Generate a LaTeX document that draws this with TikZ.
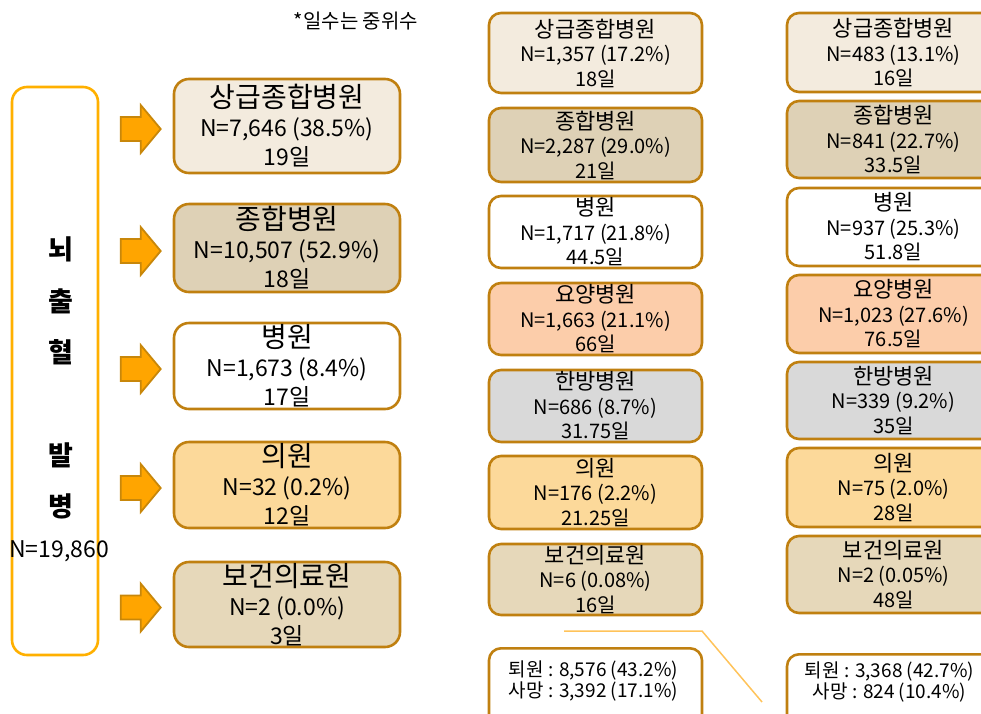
\documentclass[tikz,border=0pt]{standalone}
\usepackage{fontspec}
\setmainfont{Noto Sans CJK KR}
\usetikzlibrary{calc}
\definecolor{bordc}{RGB}{192,128,16}
\definecolor{srcc}{RGB}{255,176,0}
\definecolor{arrf}{RGB}{255,165,0}
\definecolor{arrd}{RGB}{200,135,10}
\definecolor{fsang}{RGB}{243,235,222}
\definecolor{fjong}{RGB}{222,209,182}
\definecolor{fyoyang}{RGB}{252,205,170}
\definecolor{fhan}{RGB}{217,217,217}
\definecolor{fui}{RGB}{252,217,154}
\definecolor{fbo}{RGB}{230,216,186}
\definecolor{linec}{RGB}{255,195,90}
\newcommand{\lt}[1]{{\fontsize{28}{29}\selectfont #1}}
\newcommand{\mt}[1]{{\fontsize{22}{24.5}\selectfont #1}}
\begin{document}
\begin{tikzpicture}[x=1pt,y=-1pt,
  hb/.style={draw=bordc, line width=2.6pt, rounded corners=12pt, align=center, inner sep=0pt, text=black},
  lbox/.style={hb, rounded corners=15pt, minimum width=226pt, font=\fontsize{23}{29}\selectfont},
  mbox/.style={hb, minimum width=213pt, font=\fontsize{20}{24.5}\selectfont},
  barrow/.style={fill=arrf, draw=arrd, line width=1.8pt, line join=miter}
]
\useasboundingbox (0,0) rectangle (981,713);
\clip (0,0) rectangle (981,713);

% note
\node[font=\fontsize{20}{22}\selectfont] (note) at (356,21) {*일수는 중위수};

% source box
\node[draw=srcc, line width=2.6pt, rounded corners=15pt, minimum width=86pt, minimum height=568pt] (src) at (55,371) {};
\node[font=\fontsize{27}{51.3}\bfseries\selectfont, align=center] (srct) at (61,378) {뇌\\출\\혈\\\mbox{}\\발\\병};
\node[font=\fontsize{23}{24}\selectfont] (srcn) at (59,551) {N=19,860};

% left column
\node[lbox, fill=fsang, minimum height=94pt] (l1) at (287,126) {\lt{상급종합병원}\\N=7,646 (38.5\%)\\19일};
\node[lbox, fill=fjong, minimum height=88pt] (l2) at (287,248) {\lt{종합병원}\\N=10,507 (52.9\%)\\18일};
\node[lbox, fill=white, minimum height=86pt] (l3) at (287,366) {\lt{병원}\\N=1,673 (8.4\%)\\17일};
\node[lbox, fill=fui, minimum height=86pt] (l4) at (287,485) {\lt{의원}\\N=32 (0.2\%)\\12일};
\node[lbox, fill=fbo, minimum height=85pt] (l5) at (287,604.5) {\lt{보건의료원}\\N=2 (0.0\%)\\3일};

% arrows
\foreach \i in {1,...,5}{
  \draw[barrow] ($(l\i.west)+(-12,3)$) -- ++(-20,-24) -- ++(0,12) -- ++(-20,0) -- ++(0,24) -- ++(20,0) -- ++(0,12) -- cycle;
}

% middle column
\node[mbox, fill=fsang, minimum height=80pt] (m1) at (595.5,53) {\mt{상급종합병원}\\N=1,357 (17.2\%)\\18일};
\node[mbox, fill=fjong, minimum height=74pt] (m2) at (595.5,145) {\mt{종합병원}\\N=2,287 (29.0\%)\\21일};
\node[mbox, fill=white, minimum height=72pt] (m3) at (595.5,232) {\mt{병원}\\N=1,717 (21.8\%)\\44.5일};
\node[mbox, fill=fyoyang, minimum height=72pt] (m4) at (595.5,319) {\mt{요양병원}\\N=1,663 (21.1\%)\\66일};
\node[mbox, fill=fhan, minimum height=72pt] (m5) at (595.5,406) {\mt{한방병원}\\N=686 (8.7\%)\\31.75일};
\node[mbox, fill=fui, minimum height=73pt] (m6) at (595.5,492.5) {\mt{의원}\\N=176 (2.2\%)\\21.25일};
\node[mbox, fill=fbo, minimum height=71pt] (m7) at (595.5,579.5) {\mt{보건의료원}\\N=6 (0.08\%)\\16일};

% right column
\node[mbox, fill=fsang, minimum height=79pt] (r1) at (893.5,52.5) {\mt{상급종합병원}\\N=483 (13.1\%)\\16일};
\node[mbox, fill=fjong, minimum height=77pt] (r2) at (893.5,139.5) {\mt{종합병원}\\N=841 (22.7\%)\\33.5일};
\node[mbox, fill=white, minimum height=78pt] (r3) at (893.5,227) {\mt{병원}\\N=937 (25.3\%)\\51.8일};
\node[mbox, fill=fyoyang, minimum height=78pt] (r4) at (893.5,314) {\mt{요양병원}\\N=1,023 (27.6\%)\\76.5일};
\node[mbox, fill=fhan, minimum height=77pt] (r5) at (893.5,400.5) {\mt{한방병원}\\N=339 (9.2\%)\\35일};
\node[mbox, fill=fui, minimum height=79pt] (r6) at (893.5,487.5) {\mt{의원}\\N=75 (2.0\%)\\28일};
\node[mbox, fill=fbo, minimum height=77pt] (r7) at (893.5,574.5) {\mt{보건의료원}\\N=2 (0.05\%)\\48일};

% bottom boxes
\node[hb, fill=white, minimum width=213pt, minimum height=90pt, anchor=north] (mb) at (595.5,647) {};
\node[font=\fontsize{19}{21}\selectfont, align=center] (mbt) at ($(mb.north)+(-2,34)$) {퇴원 : 8,576 (43.2\%)\\사망 : 3,392 (17.1\%)};
\node[hb, fill=white, minimum width=213pt, minimum height=90pt, anchor=north] (rb) at (893.5,653) {};
\node[font=\fontsize{19}{21}\selectfont, align=center] (rbt) at ($(rb.north)+(-4,29)$) {퇴원 : 3,368 (42.7\%)\\사망 : 824 (10.4\%)};

% decorative line
\coordinate (ls) at (564,631);
\coordinate (lm) at (702,631);
\coordinate (le) at (762,702);
\draw[linec, line width=1.5pt] (ls) -- (lm) -- (le);
\end{tikzpicture}
\end{document}
